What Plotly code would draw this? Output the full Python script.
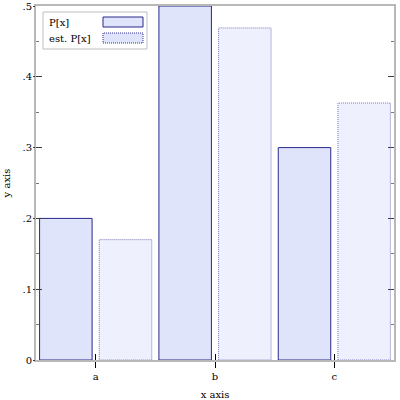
import plotly.graph_objects as go

categories = ["a", "b", "c"]
p_values = [0.2, 0.5, 0.3]
est_values = [0.17, 0.469, 0.363]
series_names = ["P[x]", "est. P[x]"]
y_tick_vals = [0, 0.1, 0.2, 0.3, 0.4, 0.5]
y_tick_text = ["0", ".1", ".2", ".3", ".4", ".5"]

FONT = "DejaVu Serif"
P_FILL = "rgb(224,228,251)"
P_LINE = "rgb(40,40,140)"
E_FILL = "rgb(238,240,253)"
E_LINE = "rgb(120,120,190)"
AX = "rgb(185,185,185)"

W, H = 400, 400
L, R, T, B = 36, 6, 6, 40
GROUPGAP = 0.12


def px(x):
    return (x - L) / (W - L - R)


def py(y):
    return (H - B - y) / (H - T - B)


fig = go.Figure()
fig.add_trace(go.Bar(x=categories, y=p_values, name=series_names[0],
                     marker=dict(color=P_FILL, line=dict(color=P_LINE, width=1))))
fig.add_trace(go.Bar(x=categories, y=est_values, name=series_names[1],
                     marker=dict(color=E_FILL, line=dict(width=0))))
# invisible trace to anchor overlay axes
fig.add_trace(go.Scatter(x=categories, y=[0, 0, 0], xaxis="x2", yaxis="y2",
                         mode="markers", marker=dict(opacity=0), hoverinfo="skip",
                         showlegend=False))

fig.update_layout(
    width=W, height=H,
    margin=dict(l=L, r=R, t=T, b=B, autoexpand=False),
    paper_bgcolor="white", plot_bgcolor="white",
    barmode="group", bargap=0.0, bargroupgap=GROUPGAP,
    showlegend=False,
    font=dict(family=FONT, size=10, color="black"),
    xaxis=dict(type="category", categoryarray=categories, range=[-0.5, 2.5],
               automargin=False,
               showline=True, linecolor=AX, linewidth=2, mirror=True,
               ticks="outside", ticklen=6, tickcolor="black", tickwidth=1,
               showgrid=False, zeroline=False,
               title=dict(text="x axis", standoff=12, font=dict(size=10))),
    xaxis2=dict(type="category", categoryarray=categories, range=[-0.5, 2.5],
                overlaying="x", side="bottom", anchor="y", automargin=False,
                ticks="inside", ticklen=6, tickcolor="black", tickwidth=1,
                showticklabels=False, showline=False, showgrid=False, zeroline=False),
    yaxis=dict(range=[0, 0.5], tickvals=y_tick_vals, ticktext=y_tick_text,
               automargin=False,
               showline=True, linecolor=AX, linewidth=2, mirror="ticks",
               ticks="inside", ticklen=6, tickcolor="rgb(60,60,60)", tickwidth=1,
               minor=dict(dtick=0.05, ticks="inside", ticklen=3, tickcolor="rgb(120,120,120)"),
               showgrid=False, zeroline=False,
               title=dict(text="y axis", standoff=10, font=dict(size=10))),
    yaxis2=dict(range=[0, 0.5], tickvals=y_tick_vals, overlaying="y", anchor="x",
                side="left", ticks="outside", ticklen=2, tickcolor="rgb(60,60,60)",
                automargin=False,
                showticklabels=False, showline=False, showgrid=False, zeroline=False),
)

shapes = []
# dotted outlines of the estimate bars (bar slot: second half of each category)
bar_w = 0.5 * (1 - GROUPGAP)
for i, v in enumerate(est_values):
    x0 = i + 0.25 - bar_w / 2
    shapes.append(dict(type="rect", xref="x", yref="y", x0=x0, x1=x0 + bar_w, y0=0, y1=v,
                       line=dict(color=E_LINE, width=1, dash="1px,1px"), layer="above"))

# custom legend (swatch on the right, as in the reference)
shapes += [
    dict(type="rect", xref="paper", yref="paper", x0=px(43), x1=px(147), y0=py(49), y1=py(12),
         line=dict(color="rgb(190,190,190)", width=1), fillcolor="white", layer="above"),
    dict(type="rect", xref="paper", yref="paper", x0=px(103), x1=px(143), y0=py(27), y1=py(17),
         line=dict(color=P_LINE, width=1), fillcolor=P_FILL, layer="above"),
    dict(type="rect", xref="paper", yref="paper", x0=px(103), x1=px(143), y0=py(43), y1=py(33),
         line=dict(color="rgb(50,50,150)", width=1, dash="1px,1px"), fillcolor=P_FILL, layer="above"),
]
fig.update_layout(shapes=shapes)
for name, yc in zip(series_names, [22, 38]):
    fig.add_annotation(xref="paper", yref="paper", x=px(47), y=py(yc), text=name,
                       showarrow=False, xanchor="left", yanchor="middle",
                       font=dict(family=FONT, size=10, color="black"))

fig.write_html("out.html")
